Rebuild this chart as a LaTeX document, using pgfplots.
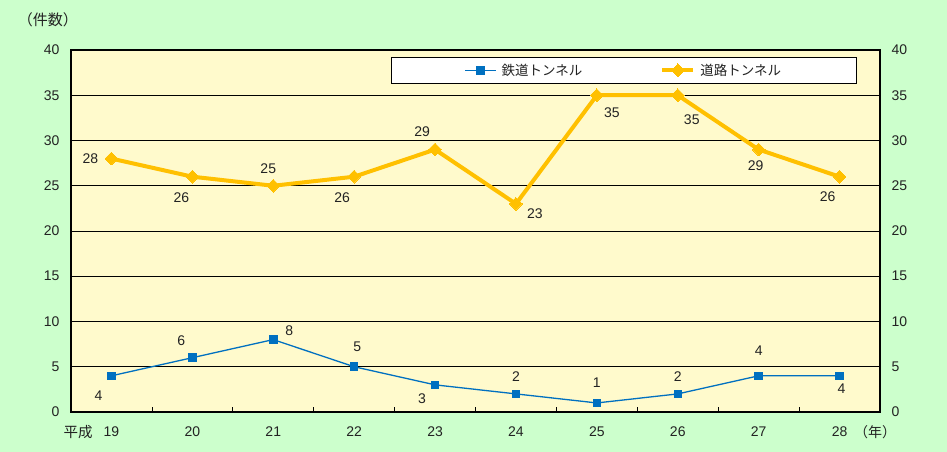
\documentclass[border=0pt]{standalone}
\usepackage{pgfplots}
\pgfplotsset{compat=1.18}
\usepackage{pgfplotstable}
\usepackage{fontspec}
\setmainfont{Liberation Sans}
\newfontfamily\cjk{Noto Sans CJK JP}
\definecolor{bggreen}{HTML}{CCFFCC}
\definecolor{plotbg}{HTML}{FFFACC}
\definecolor{rail}{HTML}{0070C0}
\definecolor{road}{HTML}{FFC000}
\definecolor{txt}{HTML}{222222}

% x = category index (0 = H19), dx/dy = label offset in pt
\pgfplotstableread{
x y dx dy
0 4 -13 -20
1 6 -11 17
2 8 16 9
3 5 3 20
4 3 -13 -14
5 2 0 17
6 1 0 20
7 2 0 17
8 4 0 25
9 4 2 -13
}\railtab
\pgfplotstableread{
x y dx dy
0 28 -21 0
1 26 -11 -21
2 25 -5 17
3 26 -12 -21
4 29 -13 18
5 23 19 -10
6 35 15 -17
7 35 14 -24
8 29 -3 -16
9 26 -12 -20
}\roadtab

\pgfplotsset{
  labelled/.style={
    nodes near coords,
    visualization depends on={\thisrow{dx}\as\dx},
    visualization depends on={\thisrow{dy}\as\dy},
    every node near coord/.append style={font=\fontsize{14}{16}\selectfont,
      text=txt, anchor=center, xshift=\dx pt, yshift=\dy pt},
  },
}

\begin{document}
\begin{tikzpicture}
\fill[bggreen] (-71pt,-40pt) rectangle (876pt,412pt);
\useasboundingbox (-71pt,-40pt) rectangle (876pt,412pt);
\begin{axis}[
  at={(0pt,0pt)}, anchor=south west,
  width=809pt, height=362pt, scale only axis,
  xmin=-0.5, xmax=9.5, ymin=0, ymax=40,
  xtick={0,...,9},
  xticklabels={19,20,21,22,23,24,25,26,27,28},
  minor xtick={0.5,1.5,...,8.5},
  xtick pos=left,
  tick align=inside,
  major tick length=0pt, minor tick length=5pt,
  minor tick style={black, line width=0.8pt},
  ytick={0,5,...,40},
  ymajorgrids,
  grid style={black, line width=0.8pt},
  axis line style={black, line width=1.2pt},
  axis background/.style={fill=plotbg},
  tick label style={font=\fontsize{14}{16}\selectfont, text=txt},
  /pgf/number format/assume math mode=true,
  xticklabel style={anchor=base, yshift=-24pt},
  yticklabel style={xshift=-8pt},
  legend style={at={(0.3956,0.9807)}, anchor=north west,
    draw=black, line width=0.8pt, fill=white,
    font=\cjk\fontsize{13.5}{15}\selectfont, text=txt,
    inner xsep=73pt, inner ysep=4.5pt,
    legend columns=2,
    /tikz/every odd column/.append style={column sep=3pt},
    /tikz/every even column/.append style={column sep=76pt}},
  legend image code/.code={\draw[mark repeat=2,mark phase=2,#1]
    plot coordinates {(0pt,0pt) (15.5pt,0pt) (31pt,0pt)};},
]
\addplot[rail, line width=1.3pt, mark=square*, mark size=3.75pt,
  mark options={solid, line width=0pt}, labelled] table[x=x, y=y] {\railtab};
\addlegendentry{鉄道トンネル}
\addplot[road, line width=4pt, mark=square*, mark size=4.5pt,
  mark options={solid, rotate=45, line width=0pt}, labelled] table[x=x, y=y] {\roadtab};
\addlegendentry{道路トンネル}
\end{axis}
\begin{axis}[
  at={(0pt,0pt)}, anchor=south west,
  width=809pt, height=362pt, scale only axis,
  xmin=-0.5, xmax=9.5, ymin=0, ymax=40,
  hide x axis,
  axis y line*=right,
  axis line style={black, line width=1.2pt},
  ytick={0,5,...,40}, major tick length=0pt,
  tick label style={font=\fontsize{14}{16}\selectfont, text=txt},
  /pgf/number format/assume math mode=true,
  yticklabel style={xshift=8pt},
]
\end{axis}
\node[font=\cjk\fontsize{15}{17}\selectfont, text=txt] at (-23pt,392pt) {（件数）};
\node[font=\cjk\fontsize{14.5}{16}\selectfont, text=txt, anchor=base] at (7pt,-25pt) {平成};
\node[font=\cjk\fontsize{14}{16}\selectfont, text=txt, anchor=base] at (804pt,-25pt) {（年）};
\end{tikzpicture}
\end{document}
